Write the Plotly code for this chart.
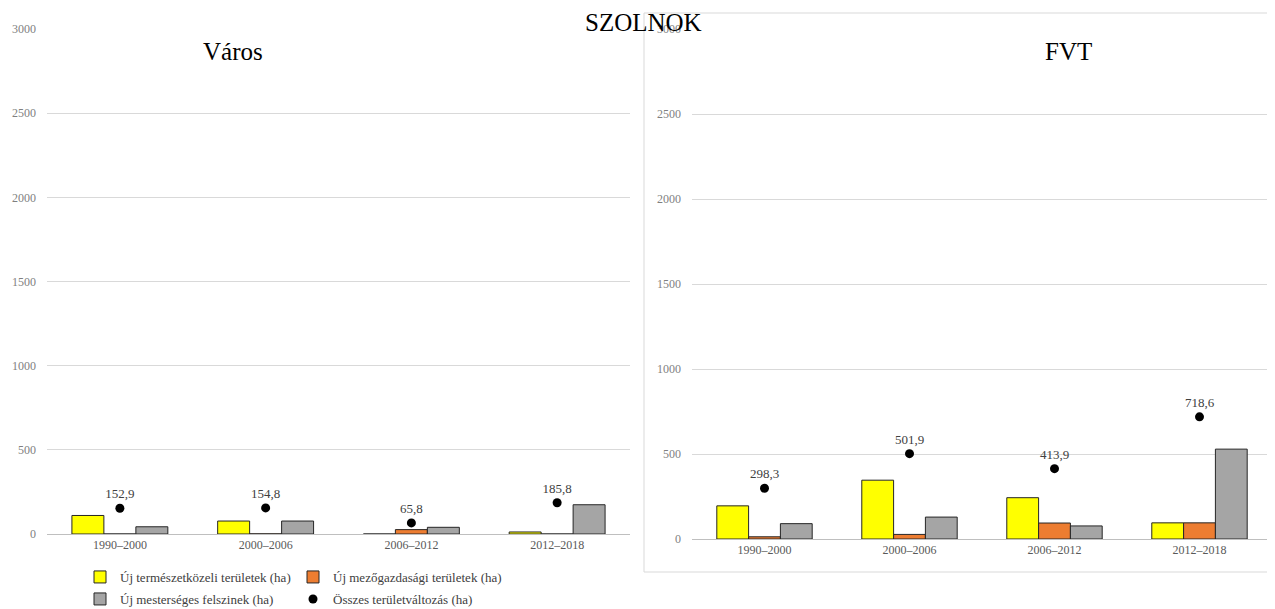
import plotly.graph_objects as go

# Adatok
idoszakok = ['1990–2000', '2000–2006', '2006–2012', '2012–2018']

varos_termeszetkozeli = [110, 77, 0, 12]
varos_mezogazdasagi = [0, 0.8, 26, 0]
varos_mesterseges = [42.9, 77, 39.8, 173.8]
varos_osszes = [152.9, 154.8, 65.8, 185.8]

fvt_termeszetkozeli = [195, 346, 243, 95]
fvt_mezogazdasagi = [13, 27, 94, 95]
fvt_mesterseges = [90.3, 128.9, 76.9, 528.6]
fvt_osszes = [298.3, 501.9, 413.9, 718.6]

y_ticks = [0, 500, 1000, 1500, 2000, 2500, 3000]

nevek = ['Új természetközeli területek (ha)', 'Új mezőgazdasági területek (ha)',
         'Új mesterséges felszinek (ha)', 'Összes területváltozás (ha)']

CORES = {
    'sarga': '#FFFF00',
    'narancs': '#ED7D31',
    'szurke': '#A5A5A5',
    'pont': '#000000',
    'racs': '#D9D9D9',
    'tengely_szoveg': '#7F7F7F',
    'szoveg': '#404040',
}
BETU = 'Liberation Serif'
W, H = 1275, 609
OFF = 8  # a böngésző body margója


def px(x):
    return (x - OFF) / W


def py(y):
    return 1 - (y - OFF) / H


fig = go.Figure()


def add_panel(fig, xa, ya, termeszet, mezo, mester, osszes, legend_on):
    szinek = [CORES['sarga'], CORES['narancs'], CORES['szurke']]
    sorok = [termeszet, mezo, mester]
    for i, (ertekek, szin) in enumerate(zip(sorok, szinek)):
        fig.add_trace(go.Bar(
            x=idoszakok, y=ertekek, name=nevek[i],
            marker=dict(color=szin, line=dict(color='#262626', width=1)),
            xaxis=xa, yaxis=ya, showlegend=legend_on,
            legend='legend' if i < 2 else 'legend2',
            hoverinfo='y'
        ))
    fig.add_trace(go.Scatter(
        x=idoszakok, y=osszes, name=nevek[3], mode='markers+text',
        marker=dict(color=CORES['pont'], size=9),
        text=[f'{v:.1f}'.replace('.', ',') for v in osszes],
        textposition='top center',
        textfont=dict(family=BETU, size=13, color=CORES['szoveg']),
        xaxis=xa, yaxis=ya, showlegend=legend_on, legend='legend2'
    ))


add_panel(fig, 'x', 'y', varos_termeszetkozeli, varos_mezogazdasagi,
          varos_mesterseges, varos_osszes, True)
add_panel(fig, 'x2', 'y2', fvt_termeszetkozeli, fvt_mezogazdasagi,
          fvt_mesterseges, fvt_osszes, False)

x_common = dict(type='category', showgrid=False, showline=True, linecolor='#BFBFBF',
                ticks='', automargin=False,
                tickfont=dict(family=BETU, size=12, color='#595959'))
y_common = dict(range=[0, 3000], tickvals=y_ticks, showgrid=True, gridcolor=CORES['racs'],
                zeroline=False, showline=False, ticks='', ticklabelstandoff=10,
                automargin=False,
                tickfont=dict(family=BETU, size=12, color=CORES['tengely_szoveg']))

legend_common = dict(orientation='h', xanchor='left', yanchor='middle',
                     entrywidth=168, entrywidthmode='pixels', traceorder='normal',
                     font=dict(family=BETU, size=13, color=CORES['szoveg']),
                     itemwidth=30, tracegroupgap=0, bgcolor='rgba(0,0,0,0)')

fig.update_layout(
    width=W, height=H,
    plot_bgcolor='white', paper_bgcolor='white',
    margin=dict(l=0, r=0, t=0, b=0, pad=0),
    barmode='group', bargap=0.342, bargroupgap=0,
    xaxis=dict(domain=[px(47), px(630)], anchor='y', **x_common),
    yaxis=dict(domain=[py(534), py(29)], anchor='x', **y_common),
    xaxis2=dict(domain=[px(692), px(1272)], anchor='y2', **x_common),
    yaxis2=dict(domain=[py(539), py(29)], anchor='x2', **y_common),
    legend=dict(x=px(80), y=py(577), **legend_common),
    legend2=dict(x=px(80), y=py(599), **legend_common),
    font=dict(family=BETU),
)

# Keret a jobb oldali diagram körül
fig.add_shape(type='rect', xref='paper', yref='paper',
              x0=px(644), x1=px(1273), y0=py(572), y1=py(13),
              line=dict(color=CORES['racs'], width=1), layer='below')

# Címek
for szoveg, xp, yp in [('Város', 233, 51), ('FVT', 1068, 51), ('SZOLNOK', 643, 23)]:
    fig.add_annotation(text=szoveg, x=px(xp), y=py(yp), xref='paper', yref='paper',
                       xanchor='center', yanchor='middle', showarrow=False,
                       font=dict(family=BETU, size=25, color='#000000'))

fig.write_html('out.html')
